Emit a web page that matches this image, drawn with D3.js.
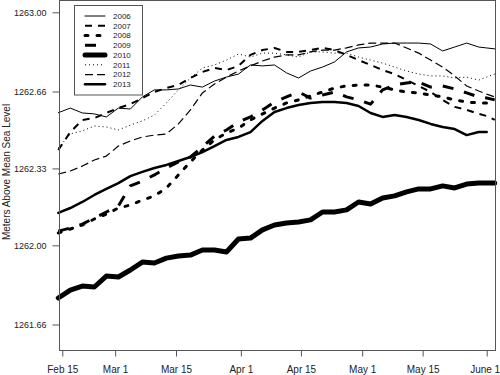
<!DOCTYPE html>
<html><head><meta charset="utf-8">
<script src="https://cdn.jsdelivr.net/npm/d3@7"></script>
<style>body{margin:0;background:#fff}svg{display:block}</style>
</head><body>
<svg id="c" width="500" height="375"></svg>
<script>
// day offsets from Feb 15
const days = [-1,2,5,8,11,14,17,20,23,26,29,32,35,38,41,44,47,50,53,56,59,62,65,68,71,74,77,80,83,86,89,92,95,98,101,104,106,108];
const tickDays = [0, 13.2, 28.4, 44.6, 59.6, 74.9, 90, 106];
const tickLabels = ["Feb 15","Mar 1","Mar 15","Apr 1","Apr 15","May 1","May 15","June 1"];
const yTicks = [1261.66, 1262.00, 1262.33, 1262.66, 1263.00];
const years = ["2006","2007","2008","2009","2010","2011","2012","2013"];

const v2006 = [1262.569,1262.589,1262.568,1262.564,1262.551,1262.589,1262.585,1262.637,1262.667,1262.667,1262.671,1262.688,1262.679,1262.705,1262.722,1262.735,1262.774,1262.770,1262.774,1262.740,1262.718,1262.748,1262.765,1262.787,1262.830,1262.847,1262.851,1262.864,1262.868,1262.868,1262.868,1262.864,1262.834,1262.851,1262.868,1262.851,1262.847,1262.843];
const v2007 = [1262.409,1262.486,1262.538,1262.546,1262.568,1262.589,1262.606,1262.632,1262.658,1262.675,1262.688,1262.718,1262.744,1262.761,1262.752,1262.770,1262.817,1262.838,1262.847,1262.830,1262.830,1262.838,1262.847,1262.838,1262.817,1262.795,1262.774,1262.752,1262.735,1262.709,1262.684,1262.658,1262.624,1262.594,1262.581,1262.564,1262.555,1262.538];
const v2008 = [1262.053,1262.070,1262.087,1262.113,1262.134,1262.160,1262.173,1262.194,1262.212,1262.246,1262.302,1262.358,1262.409,1262.452,1262.482,1262.503,1262.538,1262.564,1262.589,1262.611,1262.624,1262.641,1262.658,1262.675,1262.684,1262.688,1262.688,1262.679,1262.667,1262.658,1262.654,1262.645,1262.637,1262.624,1262.615,1262.611,1262.611,1262.615];
const v2009 = [1262.061,1262.074,1262.091,1262.117,1262.143,1262.169,1262.255,1262.276,1262.302,1262.332,1262.358,1262.379,1262.422,1262.469,1262.495,1262.529,1262.551,1262.581,1262.615,1262.637,1262.658,1262.632,1262.645,1262.658,1262.637,1262.624,1262.606,1262.667,1262.688,1262.697,1262.701,1262.679,1262.684,1262.671,1262.654,1262.637,1262.632,1262.624];
const v2010 = [1261.774,1261.808,1261.825,1261.821,1261.868,1261.864,1261.894,1261.928,1261.924,1261.945,1261.954,1261.958,1261.980,1261.980,1261.971,1262.027,1262.031,1262.066,1262.087,1262.096,1262.100,1262.109,1262.143,1262.143,1262.152,1262.186,1262.177,1262.203,1262.212,1262.229,1262.242,1262.242,1262.255,1262.246,1262.263,1262.267,1262.267,1262.267];
const v2011 = [1262.418,1262.478,1262.491,1262.512,1262.508,1262.495,1262.516,1262.534,1262.559,1262.611,1262.667,1262.718,1262.761,1262.774,1262.795,1262.821,1262.808,1262.825,1262.825,1262.817,1262.808,1262.830,1262.830,1262.825,1262.825,1262.808,1262.795,1262.782,1262.765,1262.748,1262.735,1262.727,1262.727,1262.718,1262.722,1262.709,1262.722,1262.735];
const v2012 = [1262.306,1262.319,1262.340,1262.366,1262.383,1262.426,1262.448,1262.465,1262.473,1262.478,1262.521,1262.581,1262.654,1262.692,1262.722,1262.748,1262.770,1262.791,1262.808,1262.817,1262.817,1262.830,1262.838,1262.838,1262.847,1262.860,1262.868,1262.868,1262.868,1262.847,1262.825,1262.795,1262.765,1262.727,1262.684,1262.662,1262.649,1262.637];
const v2013 = [1262.139,1262.160,1262.186,1262.216,1262.242,1262.267,1262.297,1262.315,1262.332,1262.345,1262.362,1262.379,1262.400,1262.426,1262.452,1262.465,1262.486,1262.534,1262.572,1262.589,1262.602,1262.611,1262.615,1262.615,1262.611,1262.598,1262.568,1262.551,1262.559,1262.551,1262.538,1262.521,1262.508,1262.499,1262.473,1262.486,1262.486,null];

const seriesValues = [v2006,v2007,v2008,v2009,v2010,v2011,v2012,v2013];
const styles = [
  {w:1,   dash:null,   cap:"round"},
  {w:2,   dash:"7,6",  cap:"butt"},
  {w:3,   dash:"3,9",  cap:"round"},
  {w:3,   dash:"11,11",cap:"butt"},
  {w:5,   dash:null,   cap:"round"},
  {w:1,   dash:"1,3",  cap:"butt"},
  {w:1.2, dash:"8,4",  cap:"butt"},
  {w:2.5, dash:null,   cap:"round"}
];

const svg = d3.select("#c");
const font = "Arial, 'Liberation Sans', sans-serif";
const x = d3.scaleLinear().domain([-1,108]).range([58.3,494.7]);
const y = d3.scaleLinear().domain([1261.5464,1263.0528]).range([351,0]);

const line = d3.line().defined(d=>d[1]!=null).x(d=>x(d[0])).y(d=>y(d[1]));

seriesValues.forEach((vals,i)=>{
  const st = styles[i];
  const pts = days.map((d,j)=>[d, vals[j]]);
  svg.append("path").datum(pts).attr("d",line)
    .attr("fill","none").attr("stroke","#000")
    .attr("stroke-width",st.w).attr("stroke-linejoin","round")
    .attr("stroke-linecap",st.cap)
    .attr("stroke-dasharray",st.dash);
});

// frame
svg.append("rect").attr("x",59.5).attr("y",0.5).attr("width",436).attr("height",350)
  .attr("fill","none").attr("stroke","#555").attr("stroke-width",1);

const gy = svg.append("g").attr("transform","translate(59.5,0)")
  .call(d3.axisLeft(y).tickValues(yTicks).tickSize(7).tickPadding(6).tickFormat(d3.format(".2f")));
gy.select(".domain").remove();
gy.selectAll("line").attr("stroke","#555");
gy.selectAll("text").attr("font-family",font).attr("font-size",9).attr("fill","#222");

const gx = svg.append("g").attr("transform","translate(0,350.5)")
  .call(d3.axisBottom(x).tickValues(tickDays).tickSize(6).tickPadding(9).tickFormat((d,i)=>tickLabels[i]));
gx.select(".domain").remove();
gx.selectAll("line").attr("stroke","#555");
gx.selectAll("text").attr("font-family",font).attr("font-size",10).attr("fill","#222");
gx.selectAll("text").filter((d,i)=>i===tickLabels.length-1).attr("text-anchor","end").attr("dx",13);

svg.append("text").attr("transform","translate(10,172) rotate(-90)")
  .attr("text-anchor","middle").attr("font-family",font).attr("font-size",10).attr("fill","#222")
  .text("Meters Above Mean Sea Level");

// legend
const lg = svg.append("g");
lg.append("rect").attr("x",74.5).attr("y",5.5).attr("width",68).attr("height",89.5)
  .attr("fill","#fff").attr("stroke","#555");
years.forEach((yr,i)=>{
  const st = styles[i];
  const yy = 16 + i*9.76;
  lg.append("line").attr("x1",85).attr("x2",105).attr("y1",yy).attr("y2",yy)
    .attr("stroke","#000").attr("stroke-width",st.w).attr("stroke-linecap",st.cap)
    .attr("stroke-dasharray",st.dash);
  lg.append("text").attr("x",113).attr("y",yy).attr("dy","0.35em")
    .attr("font-family",font).attr("font-size",8).attr("fill","#222").text(yr);
});
</script>
</body></html>
